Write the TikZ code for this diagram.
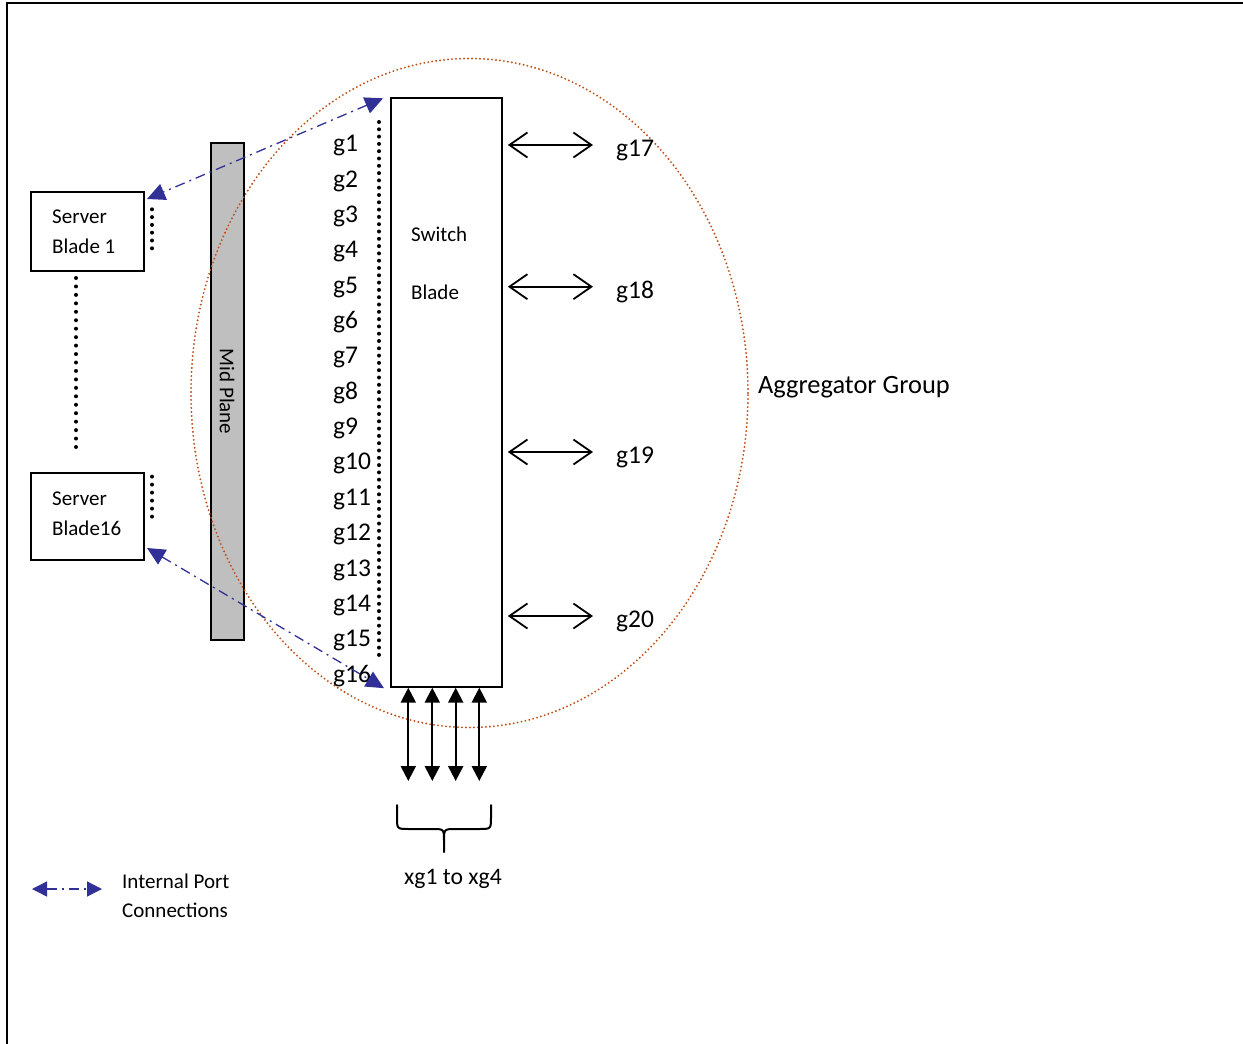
\documentclass[tikz,border=0pt]{standalone}
\usepackage{fontspec}
\setmainfont{Carlito}
\usetikzlibrary{arrows.meta,calc}
\definecolor{rust}{RGB}{192,78,22}
\definecolor{portblue}{RGB}{48,48,150}
\definecolor{planegray}{RGB}{191,191,191}
\begin{document}
\begin{tikzpicture}[x=1pt,y=-1pt,
  box/.style={draw=black,line width=2pt,inner sep=0pt,fill=white},
  smalltext/.style={inner sep=0pt,font=\fontsize{21}{25}\selectfont},
  gtext/.style={inner sep=0pt,font=\fontsize{25.5}{30}\selectfont,anchor=base west},
  dotline/.style={line width=4pt,line cap=round,dash pattern=on 0pt off #1},
  portline/.style={portblue,line width=1.3pt,dash pattern=on 10pt off 5pt on 2pt off 5pt,
     {Triangle[length=18pt,width=17pt]}-{Triangle[length=18pt,width=17pt]}},
  openarrow/.style={line width=1.8pt,{Straight Barb[length=18pt,width=25pt]}-{Straight Barb[length=18pt,width=25pt]}},
  solidarrow/.style={line width=2.2pt,{Triangle[length=15pt,width=15pt]}-{Triangle[length=15pt,width=15pt]}}]
\useasboundingbox (0,0) rectangle (1243,1044);
% frame (left and top edges)
\draw[line width=2.5pt] (7,1060) -- (7,3) -- (1260,3);
% mid plane
\node[draw=black,line width=2pt,fill=planegray,minimum width=33pt,minimum height=497pt,inner sep=0pt]
  (mp) at (227,391.5) {};
\node[smalltext,rotate=-90] (mptext) at (227,391.5) {Mid Plane};
% aggregator group ellipse
\draw[rust,line width=2.1pt,line cap=round,dash pattern=on 0pt off 4pt]
  (469.5,393) ellipse [x radius=278.5pt, y radius=334.5pt];
\node[gtext,font=\fontsize{26.4}{30}\selectfont] (agg) at (758,393) {Aggregator Group};
% server blades
\node[box,minimum width=113pt,minimum height=79pt] (sb1) at (87.5,231.5) {};
\node[smalltext,anchor=base west] (sb1a) at (52,223) {Server};
\node[smalltext,anchor=base west] (sb1b) at (52,253) {Blade 1};
\node[box,minimum width=113pt,minimum height=87pt] (sb16) at (87.5,516.5) {};
\node[smalltext,anchor=base west] (sb16a) at (52,505) {Server};
\node[smalltext,anchor=base west] (sb16b) at (52,535) {Blade16};
\draw[dotline=7.8pt] (152,209.3) -- (152,248.3);
\draw[dotline=8pt] (152,476.7) -- (152,516.7);
\draw[dotline=8.45pt] (76,278) -- (76,447);
% switch blade
\node[box,fill=none,minimum width=111.3pt,minimum height=588.4pt] (sw) at (446.7,392.5) {};
\node[smalltext,anchor=base west] (swa) at (411,241.7) {Switch};
\node[smalltext,anchor=base west] (swb) at (411,299) {Blade};
\draw[dotline=7.3pt] (379,122) -- (379,657);
\foreach \i in {1,...,16}
  \node[gtext] (g\i) at (333,{151.7+(\i-1)*35.36}) {g\i};
% uplink ports
\foreach \n/\y in {17/145,18/286.7,19/452,20/616}{
  \coordinate (r\n) at (593,\y);
  \node[gtext] (l\n) at ($(r\n)+(23,11.5)$) {g\n};
  \draw[openarrow] ($(sw.east |- r\n)+(4.5,0)$) -- (r\n);
}
% 10G ports
\foreach \k/\x in {1/408.3,2/432.3,3/455.7,4/479.3}{
  \coordinate (d\k) at (\x,781);
  \draw[solidarrow] (d\k |- sw.south) -- (d\k);
}
% brace
\draw[line width=2pt,line cap=round,line join=round]
  (397,805) -- (397,817) .. controls (397,829) .. (409,829) -- (432,829)
  .. controls (444,829) .. (444,841) -- (444,852);
\draw[line width=2pt,line cap=round,line join=round]
  (491,805) -- (491,817) .. controls (491,829) .. (479,829) -- (456,829)
  .. controls (444,829) .. (444,841);
\node[inner sep=0pt,font=\fontsize{23.7}{28}\selectfont,anchor=base] (xg) at (453,884) {xg1 to xg4};
% internal port connections
\draw[portline] ($(sw.north west)+(-7,1)$) -- ($(sb1.north east)+(2,8)$);
\draw[portline] ($(sb16.south east)+(2,-13)$) -- ($(sw.south west)+(-6,0.5)$);
% legend
\coordinate (lg1) at (32,889);
\coordinate (lg2) at (102,889);
\draw[portline,{Triangle[length=15pt,width=15pt]}-{Triangle[length=15pt,width=15pt]}] (lg1) -- (lg2);
\node[smalltext,anchor=base west] (lga) at (122,888) {Internal Port};
\node[smalltext,anchor=base west] (lgb) at (122,917) {Connections};
\end{tikzpicture}
\end{document}
